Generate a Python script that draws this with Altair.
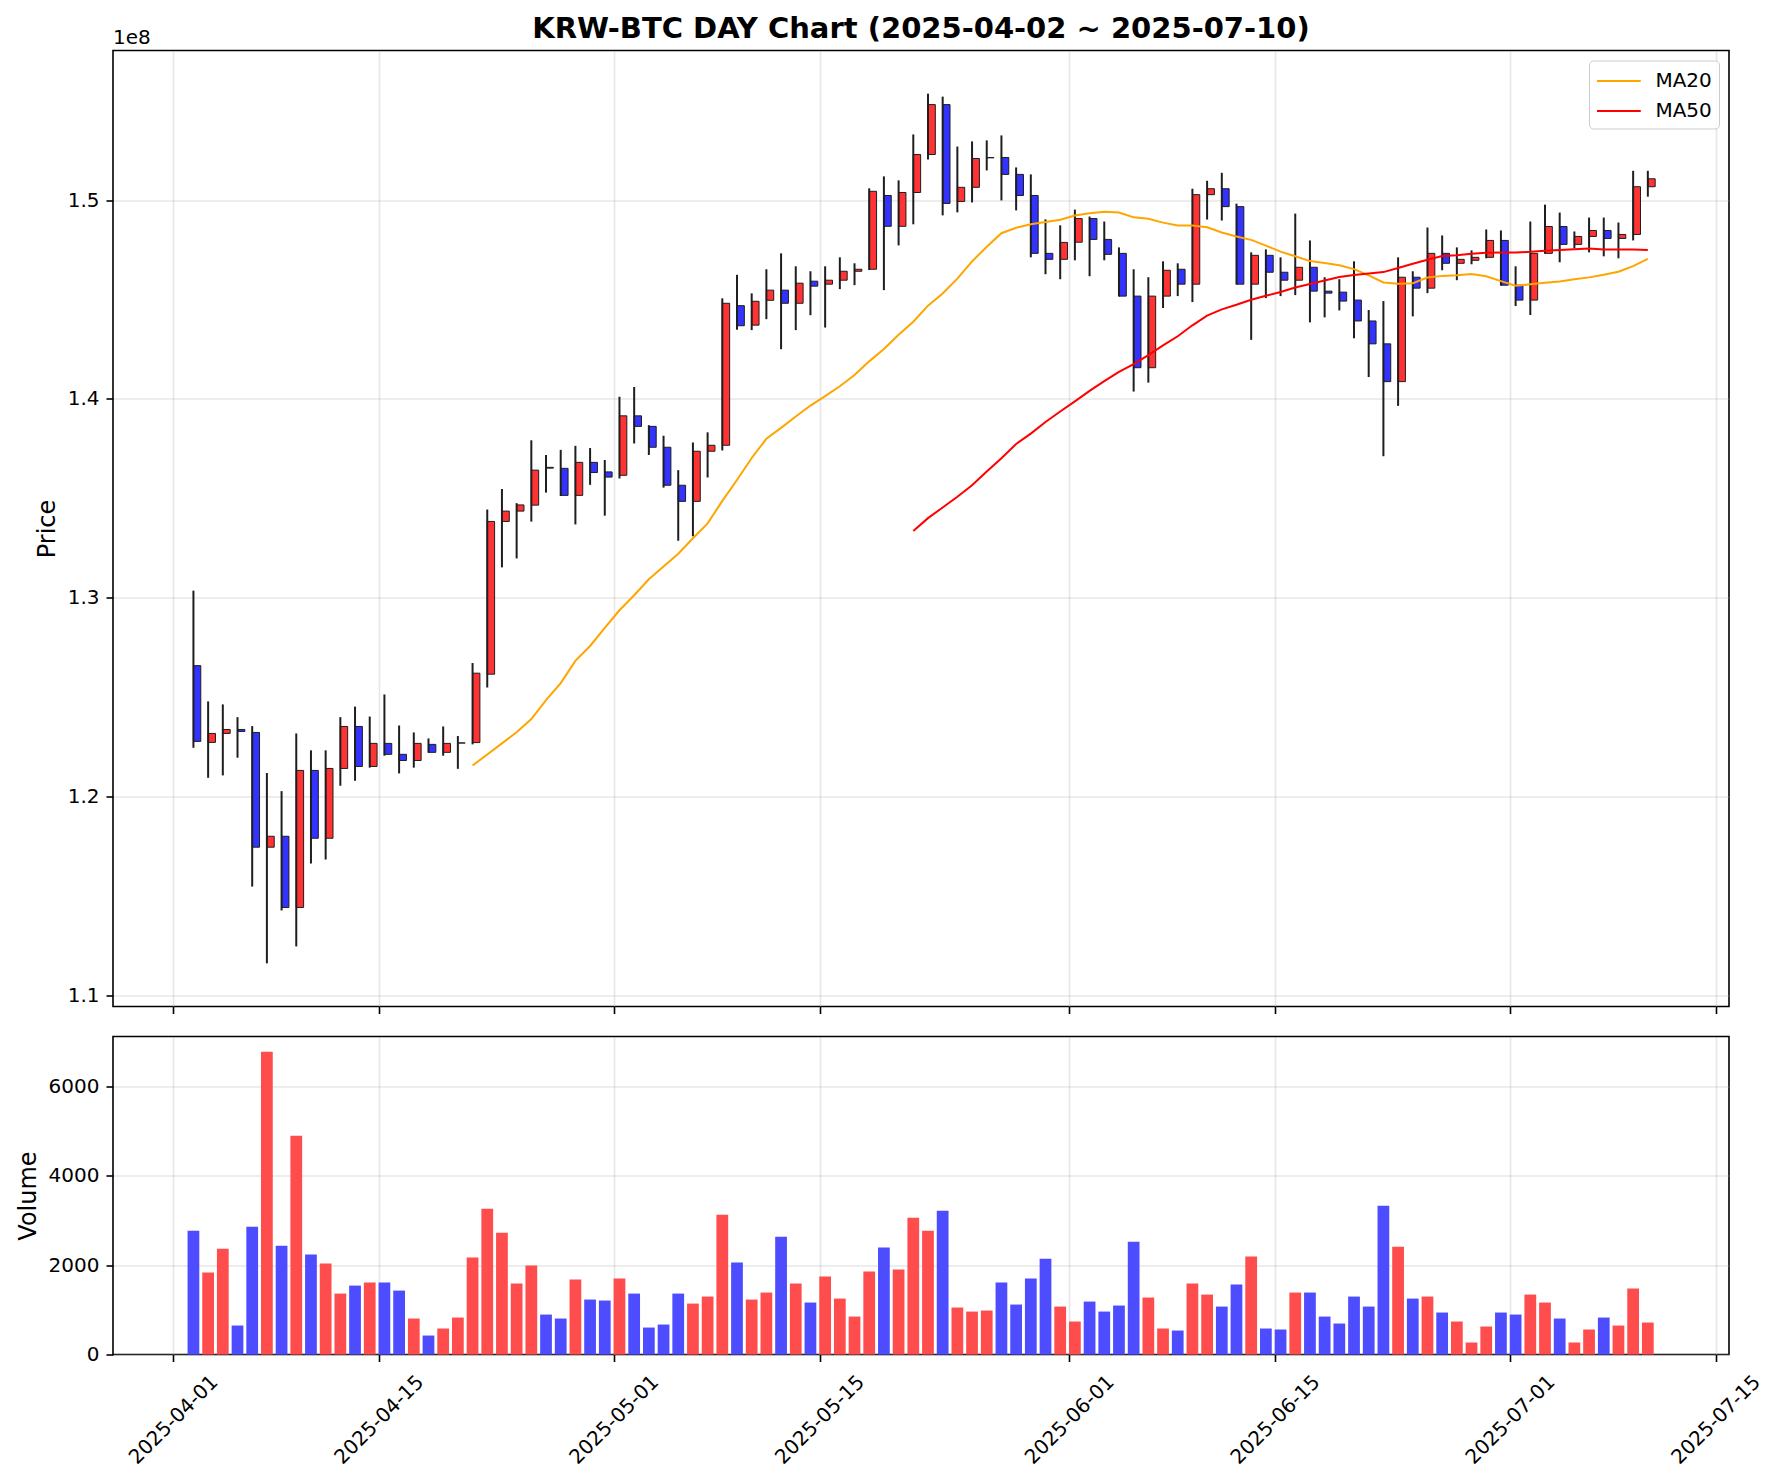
import altair as alt
import numpy as np
import pandas as pd

# ---------------- data (prices in units of 1e8 KRW) ----------------
dates = pd.date_range("2025-04-02", "2025-07-10", freq="D")

open_1e8 = [
    1.2659, 1.2273, 1.2318, 1.2338, 1.2323, 1.1746, 1.1801, 1.1443, 1.2132, 1.1791,
    1.2142, 1.2353, 1.2152, 1.2268, 1.2213, 1.2182, 1.2263, 1.2223, 1.2270, 1.2272,
    1.2616, 1.3384, 1.3436, 1.3466, 1.3656, 1.3651, 1.3515, 1.3681, 1.3633, 1.3616,
    1.3915, 1.3862, 1.3757, 1.3566, 1.3485, 1.3737, 1.3767, 1.4469, 1.4371, 1.4496,
    1.4547, 1.4481, 1.4592, 1.4577, 1.4597, 1.4642, 1.4652, 1.5023, 1.4868, 1.5038,
    1.5229, 1.5480, 1.4993, 1.5064, 1.5213, 1.5214, 1.5129, 1.5023, 1.4732, 1.4702,
    1.4788, 1.4907, 1.4802, 1.4732, 1.4517, 1.4157, 1.4517, 1.4652, 1.4577, 1.5027,
    1.5057, 1.4967, 1.4577, 1.4722, 1.4637, 1.4597, 1.4662, 1.4542, 1.4537, 1.4497,
    1.4392, 1.4277, 1.4087, 1.4612, 1.4557, 1.4732, 1.4682, 1.4697, 1.4712, 1.4797,
    1.4572, 1.4497, 1.4732, 1.4867, 1.4777, 1.4817, 1.4847, 1.4807, 1.4827, 1.5067,
]
high_1e8 = [
    1.3036, 1.2479, 1.2464, 1.2400, 1.2355, 1.2119, 1.2028, 1.2318, 1.2233, 1.2233,
    1.2400, 1.2453, 1.2403, 1.2514, 1.2358, 1.2323, 1.2293, 1.2353, 1.2305, 1.2672,
    1.3444, 1.3547, 1.3476, 1.3792, 1.3718, 1.3744, 1.3764, 1.3753, 1.3693, 1.4011,
    1.4060, 1.3868, 1.3815, 1.3642, 1.3781, 1.3832, 1.4506, 1.4624, 1.4531, 1.4652,
    1.4732, 1.4667, 1.4642, 1.4667, 1.4712, 1.4682, 1.5059, 1.5119, 1.5099, 1.5330,
    1.5535, 1.5520, 1.5269, 1.5295, 1.5300, 1.5325, 1.5164, 1.5129, 1.4903, 1.4873,
    1.4952, 1.4917, 1.4892, 1.4762, 1.4652, 1.4612, 1.4692, 1.4682, 1.5057, 1.5097,
    1.5137, 1.4982, 1.4737, 1.4752, 1.4712, 1.4932, 1.4797, 1.4612, 1.4602, 1.4692,
    1.4447, 1.4492, 1.4712, 1.4642, 1.4862, 1.4822, 1.4762, 1.4747, 1.4852, 1.4847,
    1.4667, 1.4892, 1.4977, 1.4937, 1.4842, 1.4912, 1.4912, 1.4887, 1.5147, 1.5147,
]
low_1e8 = [
    1.2246, 1.2095, 1.2107, 1.2196, 1.1548, 1.1162, 1.1428, 1.1247, 1.1664, 1.1684,
    1.2055, 1.2080, 1.2146, 1.2206, 1.2117, 1.2146, 1.2221, 1.2206, 1.2140, 1.2263,
    1.2549, 1.3153, 1.3198, 1.3383, 1.3529, 1.3512, 1.3369, 1.3568, 1.3413, 1.3600,
    1.3776, 1.3718, 1.3554, 1.3287, 1.3309, 1.3605, 1.3741, 1.4348, 1.4346, 1.4401,
    1.4250, 1.4346, 1.4421, 1.4359, 1.4552, 1.4572, 1.4648, 1.4547, 1.4772, 1.4878,
    1.5204, 1.4923, 1.4938, 1.4988, 1.5149, 1.4998, 1.4948, 1.4712, 1.4627, 1.4602,
    1.4697, 1.4617, 1.4697, 1.4515, 1.4037, 1.4082, 1.4457, 1.4517, 1.4487, 1.4902,
    1.4897, 1.4575, 1.4297, 1.4507, 1.4517, 1.4522, 1.4385, 1.4410, 1.4445, 1.4305,
    1.4110, 1.3712, 1.3965, 1.4415, 1.4532, 1.4647, 1.4597, 1.4677, 1.4707, 1.4570,
    1.4467, 1.4422, 1.4730, 1.4687, 1.4757, 1.4737, 1.4717, 1.4707, 1.4797, 1.5017,
]
close_1e8 = [
    1.2278, 1.2318, 1.2338, 1.2328, 1.1746, 1.1801, 1.1443, 1.2132, 1.1791, 1.2142,
    1.2353, 1.2152, 1.2268, 1.2213, 1.2182, 1.2268, 1.2223, 1.2268, 1.2270, 1.2621,
    1.3384, 1.3436, 1.3467, 1.3642, 1.3652, 1.3515, 1.3681, 1.3630, 1.3607, 1.3915,
    1.3862, 1.3757, 1.3566, 1.3485, 1.3737, 1.3767, 1.4481, 1.4368, 1.4491, 1.4547,
    1.4481, 1.4582, 1.4567, 1.4597, 1.4642, 1.4652, 1.5044, 1.4868, 1.5038, 1.5229,
    1.5480, 1.4983, 1.5064, 1.5209, 1.5213, 1.5129, 1.5023, 1.4732, 1.4702, 1.4787,
    1.4907, 1.4802, 1.4727, 1.4517, 1.4157, 1.4517, 1.4647, 1.4577, 1.5027, 1.5057,
    1.4967, 1.4577, 1.4722, 1.4637, 1.4597, 1.4662, 1.4542, 1.4532, 1.4492, 1.4392,
    1.4277, 1.4087, 1.4612, 1.4557, 1.4732, 1.4682, 1.4702, 1.4712, 1.4797, 1.4572,
    1.4497, 1.4732, 1.4867, 1.4777, 1.4817, 1.4847, 1.4807, 1.4827, 1.5067, 1.5107,
]
volume = [
    2775, 1835, 2372, 649, 2865, 6781, 2439, 4901, 2238, 2037,
    1365, 1544, 1611, 1611, 1432, 806, 425, 582, 828, 2171,
    3267, 2730, 1589, 1992, 895, 806, 1679, 1231, 1209, 1701,
    1365, 604, 671, 1365, 1141, 1298, 3133, 2059, 1231, 1388,
    2641, 1589, 1164, 1746, 1253, 850, 1858, 2395, 1902, 3066,
    2775, 3223, 1052, 962, 985, 1611, 1119, 1701, 2148, 1074,
    739, 1186, 962, 1097, 2529, 1276, 582, 537, 1589, 1343,
    1074, 1567, 2193, 582, 560, 1388, 1388, 850, 694, 1298,
    1074, 3335, 2417, 1253, 1298, 940, 739, 269, 627, 940,
    895, 1343, 1164, 806, 269, 560, 828, 649, 1477, 716,
]

title_text = "KRW-BTC DAY Chart (2025-04-02 ~ 2025-07-10)"
price_ticks = [1.1e8, 1.2e8, 1.3e8, 1.4e8, 1.5e8]
volume_ticks = [0, 2000, 4000, 6000]
date_ticks = ["2025-04-01", "2025-04-15", "2025-05-01", "2025-05-15",
              "2025-06-01", "2025-06-15", "2025-07-01", "2025-07-15"]

# ---------------- table ----------------
t = dates + pd.Timedelta(hours=9)
df = pd.DataFrame({
    "t": t,
    "body_end": t + pd.Timedelta(hours=12),
    "vol_start": t - pd.Timedelta(hours=9.6),
    "vol_end": t + pd.Timedelta(hours=9.6),
    "open": np.array(open_1e8) * 1e8,
    "high": np.array(high_1e8) * 1e8,
    "low": np.array(low_1e8) * 1e8,
    "close": np.array(close_1e8) * 1e8,
    "volume": volume,
})

FONT = "DejaVu Sans"
W = 1616

def dt(s, h=0, m=0):
    y, mo, d = [int(v) for v in s.split("-")]
    return alt.DateTime(year=y, month=mo, date=d, hours=h, minutes=m)

xscale = alt.Scale(domain=[dt("2025-03-27", 21, 36), dt("2025-07-15", 21, 36)], nice=False)
tick_vals = [dt(s) for s in date_ticks]

up = "datum.close >= datum.open"

x_top_axis = alt.Axis(values=tick_vals, labels=False, title=None, tickSize=7,
                      grid=True, domain=False)
y_price_axis = alt.Axis(values=price_ticks, labelExpr="format(datum.value / 1e8, '.1f')",
                        title="Price", tickSize=7, labelPadding=7, titlePadding=8,
                        grid=True, domain=False, labelFlush=False)
yscale = alt.Scale(domain=[1.0945e8, 1.5752e8], nice=False, zero=False)

base = alt.Chart(df)

bodies = base.mark_bar(stroke="#1e1e1e", strokeWidth=1).encode(
    x=alt.X("t:T", scale=xscale, axis=x_top_axis),
    x2="body_end:T",
    y=alt.Y("open:Q", scale=yscale, axis=y_price_axis),
    y2="close:Q",
    fill=alt.condition(up, alt.value("#FF3333"), alt.value("#3333FF")),
)

wicks = base.mark_rule(color="#1e1e1e", strokeWidth=2).encode(
    x="t:T", y="low:Q", y2="high:Q"
)

ma = (
    base.transform_window(ma20="mean(close)", n20="count()", frame=[-19, 0],
                          sort=[alt.SortField("t")])
    .transform_window(ma50="mean(close)", n50="count()", frame=[-49, 0],
                      sort=[alt.SortField("t")])
    .transform_calculate(MA20="datum.n20 == 20 ? datum.ma20 : null",
                         MA50="datum.n50 == 50 ? datum.ma50 : null")
    .transform_fold(["MA20", "MA50"], as_=["series", "value"])
    .transform_filter("isValid(datum.value)")
    .mark_line(strokeWidth=2)
    .encode(
        x="t:T",
        y="value:Q",
        color=alt.Color("series:N",
                        scale=alt.Scale(domain=["MA20", "MA50"], range=["#FFA500", "#FF0000"]),
                        legend=alt.Legend(title=None, orient="top-right", offset=10,
                                          padding=7, fillColor="rgba(255,255,255,0.8)",
                                          strokeColor="#cccccc", cornerRadius=4,
                                          labelFontSize=20, labelFont=FONT,
                                          symbolType="M-1.75,0H1.75", symbolSize=625,
                                          symbolOffset=9.4, symbolStrokeWidth=2,
                                          labelOffset=23, rowPadding=6)),
    )
)

offset_text = alt.Chart(pd.DataFrame({"label": ["1e8"]})).mark_text(
    align="left", baseline="alphabetic", fontSize=20, font=FONT, color="black"
).encode(x=alt.value(0), y=alt.value(-7), text="label:N")

price = alt.layer(bodies, wicks, ma, offset_text).properties(
    width=W, height=956,
    title=alt.TitleParams(title_text, fontSize=29, fontWeight="bold", font=FONT,
                          anchor="middle", color="black", frame="group", offset=-16),
)

x_bottom_axis = alt.Axis(values=tick_vals, format="%Y-%m-%d", labelAngle=-45,
                         labelAlign="center", labelBaseline="middle", labelPadding=58,
                         tickSize=7, grid=True, title=None, domain=False,
                         labelOverlap=False, labelFlush=False)

vol = base.mark_bar().encode(
    x=alt.X("vol_start:T", scale=xscale, axis=x_bottom_axis),
    x2="vol_end:T",
    y=alt.Y("volume:Q", scale=alt.Scale(domain=[0, 7125], nice=False),
            axis=alt.Axis(values=volume_ticks, format="d", title="Volume", tickSize=7,
                          labelPadding=7, titlePadding=8, grid=True, domain=False,
                          labelFlush=False)),
    y2=alt.datum(0),
    fill=alt.condition(up, alt.value("#FF4D4D"), alt.value("#4D4DFF")),
).properties(width=W, height=318)

chart = (
    alt.vconcat(price, vol, spacing=20)
    .resolve_scale(color="independent")
    .resolve_legend(color="independent")
    .properties(padding={"left": 7, "top": 5.5, "right": 5, "bottom": 5})
    .configure(font=FONT)
    .configure_axis(labelFont=FONT, labelFontSize=20, titleFont=FONT, titleFontSize=24,
                    titleFontWeight="normal", labelColor="black", titleColor="black",
                    tickColor="black", tickWidth=1.6, gridColor="#b0b0b0",
                    gridOpacity=0.3, gridWidth=1.6, zindex=1)
    .configure_view(stroke="black", strokeWidth=1.6)
)

chart.save("out.html", embed_options={"renderer": "svg", "actions": False})
